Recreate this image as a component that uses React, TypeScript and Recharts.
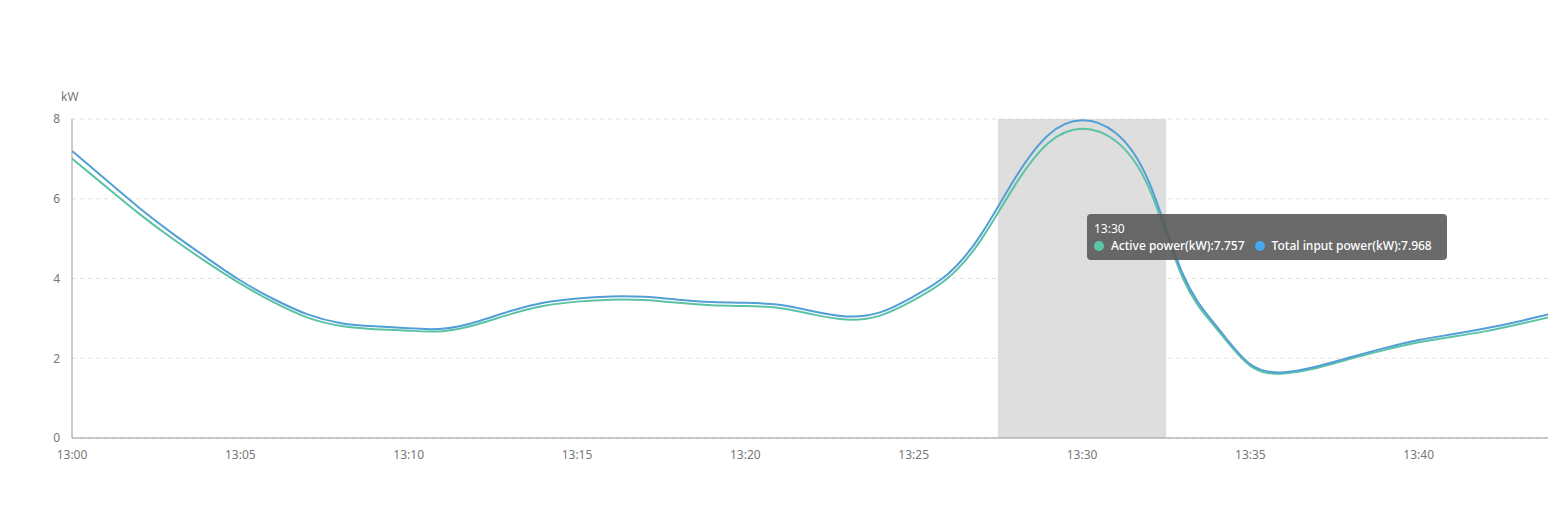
import React from "react";
import { LineChart, Line, XAxis, YAxis, CartesianGrid, ReferenceArea } from "recharts";

const minutes = [0,1,2,3,4,5,6,7,8,9,10,11,12,13,14,15,16,17,18,19,20,21,22,23,24,25,26,27,28,29,30,31,32,33,34,35,36,37,38,39,40,41,42,43,44];
const activePower = [7.01,6.31,5.62,4.99,4.41,3.87,3.40,3.02,2.81,2.73,2.69,2.68,2.84,3.10,3.31,3.42,3.47,3.46,3.39,3.33,3.31,3.26,3.10,2.97,3.07,3.46,4.0,4.97,6.33,7.40,7.757,7.45,6.25,4.0,2.74,1.81,1.62,1.76,1.99,2.21,2.40,2.54,2.68,2.86,3.05];
const totalInput = [7.20,6.48,5.77,5.12,4.52,3.95,3.48,3.10,2.88,2.80,2.75,2.74,2.91,3.18,3.39,3.50,3.55,3.54,3.47,3.41,3.39,3.34,3.18,3.05,3.15,3.55,4.1,5.1,6.5,7.6,7.968,7.65,6.4,4.1,2.8,1.85,1.65,1.80,2.03,2.26,2.46,2.60,2.75,2.93,3.13];
const xTicks = [0,5,10,15,20,25,30,35,40];
const yTicks = [0,2,4,6,8];

const data = minutes.map((m, i) => ({ m, active: activePower[i], total: totalInput[i] }));

const fmtTime = (m: number) => `13:${String(m).padStart(2, "0")}`;

const FONT = "'Noto Sans', 'DejaVu Sans', sans-serif";

export default function App() {
  return (
    <div style={{ position: "absolute", left: 0, top: 0, width: 1548, height: 512, overflow: "hidden", fontFamily: FONT, background: "#fff" }}>
      <LineChart width={1548} height={512} data={data} margin={{ top: 119, right: 0, bottom: 44, left: 0 }}>
        <ReferenceArea x1={27.5} x2={32.5} y1={0} y2={8} fill="#dedede" fillOpacity={1} stroke="none" ifOverflow="hidden" />
        <CartesianGrid vertical={false} stroke="#e0e0e0" strokeDasharray="4 4" />
        <XAxis
          dataKey="m"
          type="number"
          domain={[0, 43.84]}
          ticks={xTicks}
          allowDataOverflow
          tickFormatter={fmtTime}
          tickLine={false}
          axisLine={{ stroke: "#999" }}
          tick={{ fill: "#777", fontSize: 12, fontFamily: FONT }}
          tickMargin={6}
          interval={0}
        />
        <YAxis
          domain={[0, 8]}
          ticks={yTicks}
          width={72}
          tickLine={false}
          axisLine={{ stroke: "#999" }}
          tick={{ fill: "#777", fontSize: 12, fontFamily: FONT }}
          tickMargin={6}
          label={{ value: "kW", position: "insideTopLeft", dx: 56, dy: -32, fill: "#777", fontSize: 12, fontFamily: FONT }}
        />
        <Line type="natural" dataKey="active" stroke="#5cc2a6" strokeWidth={2} dot={false} isAnimationActive={false} />
        <Line type="natural" dataKey="total" stroke="#529fd6" strokeWidth={2} dot={false} isAnimationActive={false} />
      </LineChart>
      <div
        style={{
          position: "absolute",
          left: 1087,
          top: 214,
          width: 360,
          height: 46,
          background: "rgba(90,90,90,0.9)",
          borderRadius: 4,
          color: "#fff",
          fontSize: 12,
          fontFamily: FONT,
          boxSizing: "border-box",
          padding: "6px 7px",
          lineHeight: "17px",
        }}
      >
        <div>13:30</div>
        <div style={{ display: "flex", alignItems: "center", whiteSpace: "nowrap", fontWeight: 500 }}>
          <span style={{ display: "inline-block", width: 10, height: 10, borderRadius: 5, background: "#5cc6a9", marginRight: 7 }} />
          <span>Active power(kW):7.757</span>
          <span style={{ display: "inline-block", width: 10, height: 10, borderRadius: 5, background: "#45a8f0", marginLeft: 10, marginRight: 7 }} />
          <span>Total input power(kW):7.968</span>
        </div>
      </div>
    </div>
  );
}
